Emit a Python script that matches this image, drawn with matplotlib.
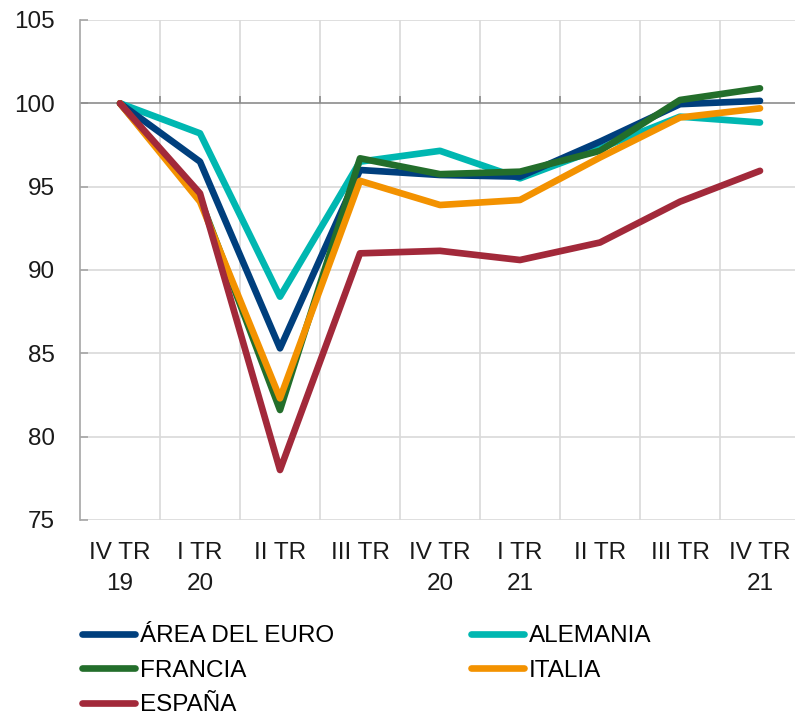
import matplotlib
matplotlib.use("Agg")
import matplotlib.pyplot as plt
import numpy as np

plt.rcParams["font.family"] = ["Liberation Sans", "DejaVu Sans"]

# ---- Data (index, IV TR 2019 = 100) ----
quarters = ["IV TR\n19", "I TR\n20", "II TR\n", "III TR\n", "IV TR\n20",
            "I TR\n21", "II TR\n", "III TR\n", "IV TR\n21"]
euro = [100, 96.5, 85.3, 96.0, 95.7, 95.6, 97.7, 99.95, 100.15]
alemania = [100, 98.2, 88.4, 96.5, 97.15, 95.5, 97.3, 99.2, 98.85]
francia = [100, 94.3, 81.6, 96.7, 95.75, 95.9, 97.15, 100.2, 100.9]
italia = [100, 94.1, 82.3, 95.35, 93.9, 94.2, 96.75, 99.15, 99.7]
espana = [100, 94.6, 78.0, 91.0, 91.15, 90.6, 91.65, 94.1, 95.95]

colors = {"euro": "#003f7d", "alemania": "#00b7b1", "francia": "#236e2b",
          "italia": "#f39200", "espana": "#a2293a"}

fig = plt.figure(figsize=(7.95, 7.17), dpi=100)
ax = fig.add_axes([80 / 795, 1 - 520 / 717, 720 / 795, 500 / 717])

x = np.arange(len(quarters))
lw = 4.8
style = dict(lw=lw, solid_capstyle="round", solid_joinstyle="round")
l_ale, = ax.plot(x, alemania, color=colors["alemania"], label="ALEMANIA", zorder=3, **style)
l_eur, = ax.plot(x, euro, color=colors["euro"], label="ÁREA DEL EURO", zorder=4, **style)
l_fra, = ax.plot(x, francia, color=colors["francia"], label="FRANCIA", zorder=5, **style)
l_ita, = ax.plot(x, italia, color=colors["italia"], label="ITALIA", zorder=6, **style)
l_esp, = ax.plot(x, espana, color=colors["espana"], label="ESPAÑA", zorder=7, **style)

ax.set_xlim(-0.5, len(quarters) - 0.5)
ax.set_ylim(75, 105)
ax.set_yticks([75, 80, 85, 90, 95, 100, 105])

# grid: vertical lines between categories, horizontal at each tick
for gx in np.arange(0.5, len(quarters) - 0.5, 1.0):
    ax.axvline(gx, color="#d9d9d9", lw=1.2, zorder=1)
for gy in [75, 80, 85, 90, 95, 105]:
    ax.axhline(gy, color="#d9d9d9", lw=1.2, zorder=1)
ax.axhline(100, color="#8c8c8c", lw=1.2, zorder=2)
# small tick marks on the 100 axis
ax.vlines(np.arange(0.5, len(quarters) - 0.5, 1.0), 100, 100.45,
          color="#8c8c8c", lw=1.2, zorder=2)

for s in ["top", "right", "bottom"]:
    ax.spines[s].set_visible(False)
ax.spines["left"].set_color("#a6a6a6")
ax.spines["left"].set_linewidth(1.2)

ax.set_xticks(x)
ax.set_xticklabels(quarters, linespacing=1.5)
ax.tick_params(axis="x", length=0, pad=16, labelsize=17.5, colors="#1a1a1a")
ax.tick_params(axis="y", direction="in", length=6, width=1.2, color="#a6a6a6",
               pad=18, labelsize=17.5, colors="#1a1a1a")

# ---- Legend ----
fig.legend([l_eur, l_fra, l_esp, l_ale, l_ita],
           ["ÁREA DEL EURO", "FRANCIA", "ESPAÑA", "ALEMANIA", "ITALIA"],
           loc="upper left", bbox_to_anchor=(82 / 795, 1 - 625 / 717), ncol=2,
           frameon=False, fontsize=17.5, handlelength=2.2, handletextpad=0.2,
           columnspacing=5.6, labelspacing=0.52, borderaxespad=0, borderpad=0)

fig.savefig("out.png", dpi=100)
